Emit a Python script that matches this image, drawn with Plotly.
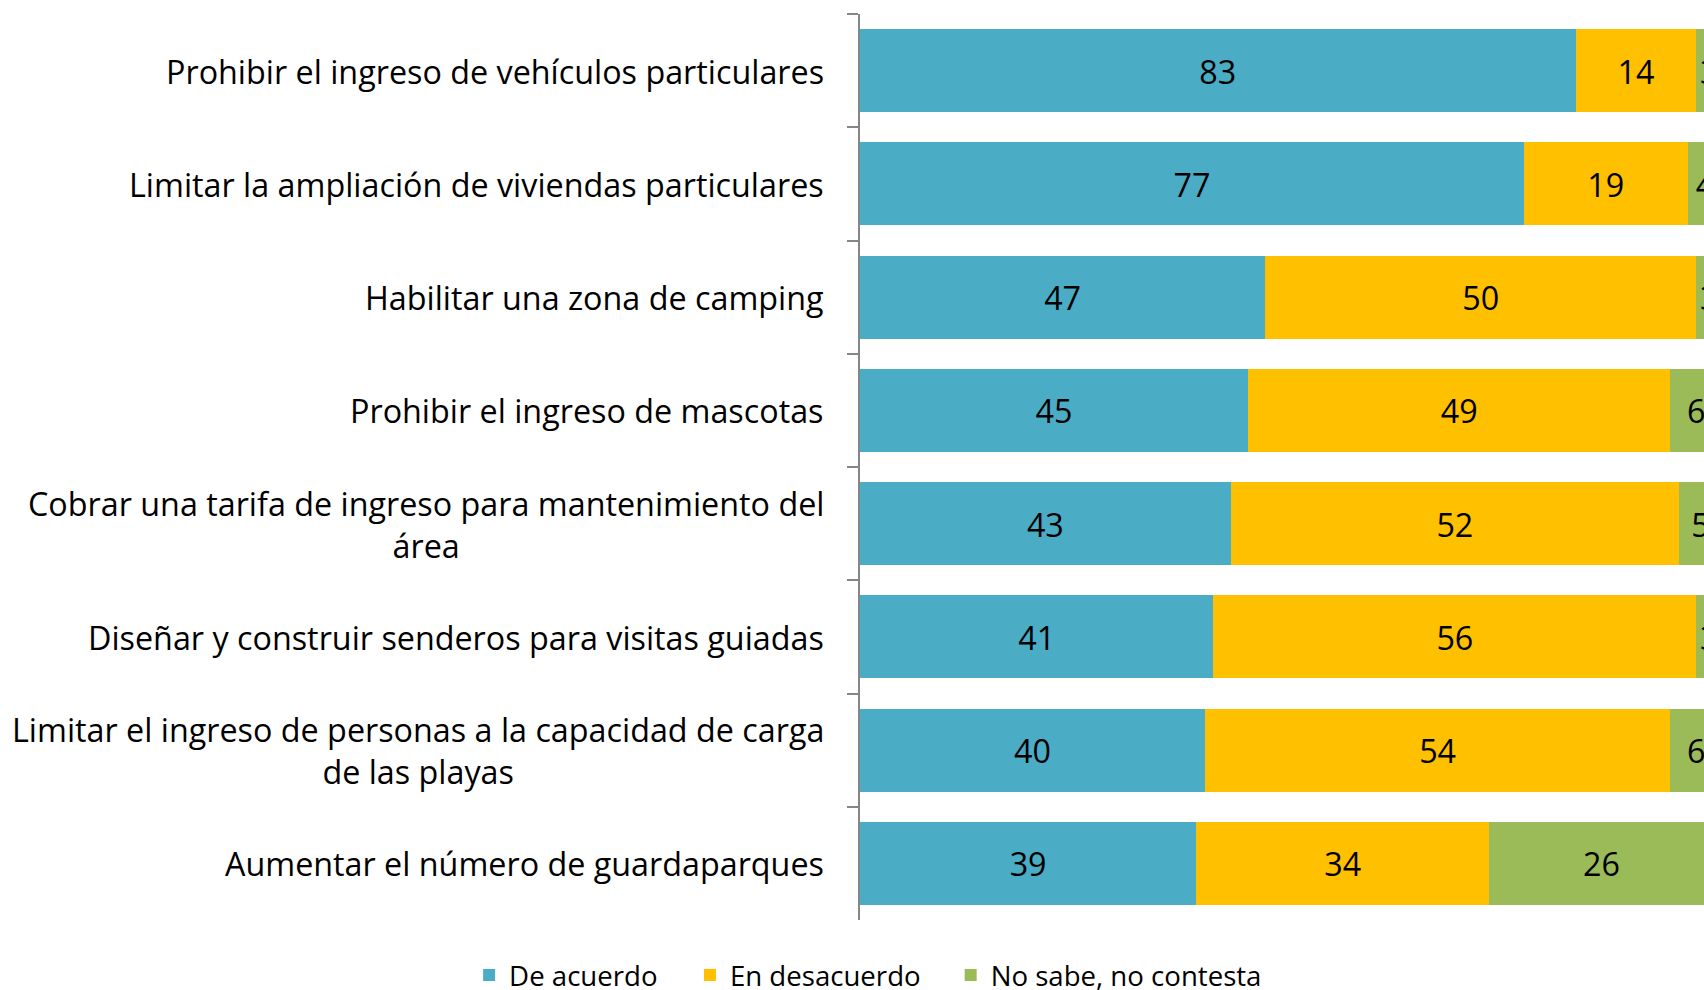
import plotly.graph_objects as go

categories = [
    "Prohibir el ingreso de vehículos particulares",
    "Limitar la ampliación de viviendas particulares",
    "Habilitar una zona de camping",
    "Prohibir el ingreso de mascotas",
    "Cobrar una tarifa de ingreso para mantenimiento del<br>área",
    "Diseñar y construir senderos para visitas guiadas",
    "Limitar el ingreso de personas a la capacidad de carga<br>de las playas",
    "Aumentar el número de guardaparques",
]
de_acuerdo = [83, 77, 47, 45, 43, 41, 40, 39]
en_desacuerdo = [14, 19, 50, 49, 52, 56, 54, 34]
no_sabe = [3, 4, 3, 6, 5, 3, 6, 26]

series_names = ["De acuerdo", "En desacuerdo", "No sabe, no contesta"]
series_values = [de_acuerdo, en_desacuerdo, no_sabe]
colors = ["#4BACC6", "#FFC000", "#9BBB59"]
legend_ids = ["legend", "legend2", "legend3"]
legend_x = [0.2753, 0.4049, 0.5579]

FONT = "Open Sans"
FS = 32.3
LEG_FS = 27.6

fig = go.Figure()
for name, vals, col, lid in zip(series_names, series_values, colors, legend_ids):
    fig.add_trace(go.Bar(
        y=categories, x=vals, name=name, orientation="h", legend=lid,
        marker=dict(color=col, line=dict(width=0)),
        text=vals, texttemplate="%{text}", textposition="inside",
        insidetextanchor="middle", constraintext="none",
        textfont=dict(family=FONT, size=FS, color="black"),
        hoverinfo="skip", cliponaxis=True,
    ))

for c in categories:
    fig.add_annotation(
        x=0, xref="paper", y=c, yref="y", xanchor="right", yanchor="middle",
        xshift=-34, text=c, showarrow=False, align="center",
        font=dict(family=FONT, size=FS, color="black"),
    )

legends = {}
for lid, lx in zip(legend_ids, legend_x):
    legends[lid] = dict(
        orientation="h", xref="container", yref="container",
        x=lx, xanchor="left", y=0.0152, yanchor="middle",
        font=dict(family=FONT, size=LEG_FS, color="black"),
        itemclick=False, itemdoubleclick=False, bgcolor="rgba(0,0,0,0)",
    )

fig.update_layout(
    barmode="stack", bargap=0.265,
    width=1704, height=990,
    margin=dict(l=860, r=0, t=14, b=70),
    paper_bgcolor="white", plot_bgcolor="white",
    font=dict(family=FONT, size=FS, color="black"),
    xaxis=dict(range=[0, 97.9], visible=False, fixedrange=True),
    yaxis=dict(
        type="category", categoryorder="array", categoryarray=categories,
        autorange="reversed", showticklabels=False, tickson="boundaries",
        ticks="outside", ticklen=11, tickwidth=2, tickcolor="#868686",
        showline=True, linecolor="#868686", linewidth=2, showgrid=False,
        zeroline=False, fixedrange=True,
    ),
    showlegend=True,
    **legends,
)

fig.write_html(
    "out.html",
    config={"displayModeBar": False},
    post_script="document.body.style.margin='0';document.body.style.overflow='hidden';",
)
